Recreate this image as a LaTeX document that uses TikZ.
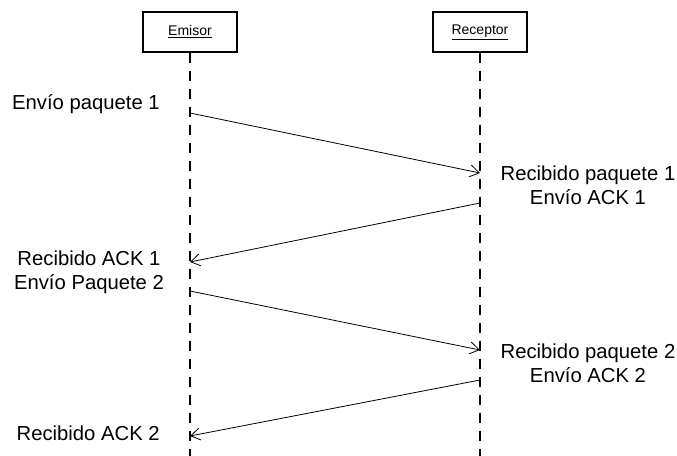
\documentclass[tikz,border=0pt]{standalone}
\usepackage{fontspec}
\setmainfont{Liberation Sans}
\usetikzlibrary{arrows.meta}
\begin{document}
\begin{tikzpicture}[x=0.75pt,y=-0.75pt,
  actor/.style={draw,line width=1pt,minimum width=70.5pt,minimum height=30pt,inner sep=0pt,font=\fontsize{10.5}{12}\selectfont},
  lifeline/.style={line width=1.2pt,dash pattern=on 7.5pt off 6pt},
  msg/.style={line width=0.6pt,-{Straight Barb[length=7pt,width=9pt,line width=0.6pt]}},
  note/.style={font=\fontsize{15.2}{18}\selectfont,align=center,inner sep=0pt}]
\useasboundingbox (0,0) rectangle (677,456);
% participants
\node[actor] (em) at (190,32) {\underline{Emisor}};
\node[actor] (re) at (480,32) {\underline{Receptor}};
\coordinate (emEnd) at (190,456);
\coordinate (reEnd) at (480,456);
\draw[lifeline] (em.south) -- (emEnd);
\draw[lifeline] (re.south) -- (reEnd);
% message anchor points on the lifelines
\coordinate (a1) at (190,113);
\coordinate (b1) at (480,173);
\coordinate (b2) at (480,203);
\coordinate (a2) at (190,262);
\coordinate (a3) at (190,291);
\coordinate (b3) at (480,350);
\coordinate (b4) at (480,380);
\coordinate (a4) at (190,436);
\draw[msg] (a1) -- (b1);
\draw[msg] (b2) -- (a2);
\draw[msg] (a3) -- (b3);
\draw[msg] (b4) -- (a4);
% annotations
\node[note,anchor=east] (t1) at (160,104) {Envío paquete 1};
\node[note] (t2) at (588,185) {Recibido paquete 1\\Envío ACK 1};
\node[note] (t3) at (89,272) {Recibido ACK 1\\Envío Paquete 2};
\node[note] (t4) at (588,363) {Recibido paquete 2\\Envío ACK 2};
\node[note,anchor=east] (t5) at (160,433) {Recibido ACK 2};
\end{tikzpicture}
\end{document}
